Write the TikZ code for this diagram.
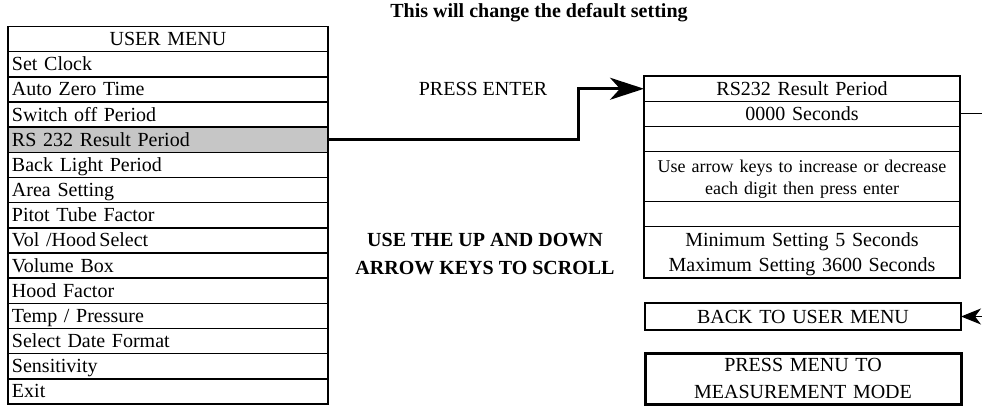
\documentclass[tikz,border=0pt]{standalone}
\usepackage{fontspec}
\setmainfont{Liberation Serif}
\usetikzlibrary{positioning,arrows.meta}

\begin{document}
\begin{tikzpicture}[x=1pt,y=-1pt,
    menurow/.style={draw,line width=1.5pt,minimum width=320pt,minimum height=25.17pt,
      text width=312pt,text height=16pt,text depth=3pt,inner xsep=4pt,inner ysep=0pt,
      outer sep=0pt,align=left,font=\fontsize{20}{22}\selectfont},
    menuhead/.style={menurow,align=center},
    picked/.style={fill=gray!45},
    panelrow/.style={draw,line width=1.5pt,minimum width=316pt,minimum height=25pt,
      text width=306pt,inner xsep=5pt,inner ysep=0pt,outer sep=0pt,align=center,
      font=\fontsize{20}{25}\selectfont},
    plain/.style={inner sep=0pt,align=center,font=\fontsize{20}{28}\selectfont}]
  \useasboundingbox (0,0) rectangle (982,406);

  % user menu
  \node[menuhead,anchor=north west] (menu) at (8,26.5) {USER MENU};
  \node[menurow,below=0pt of menu] (clock) {Set Clock};
  \node[menurow,below=0pt of clock] (autozero) {Auto Zero Time};
  \node[menurow,below=0pt of autozero] (switchoff) {Switch off Period};
  \node[menurow,picked,below=0pt of switchoff] (rsperiod) {RS 232 Result Period};
  \node[menurow,below=0pt of rsperiod] (backlight) {Back Light Period};
  \node[menurow,below=0pt of backlight] (area) {Area Setting};
  \node[menurow,below=0pt of area] (pitot) {Pitot Tube Factor};
  \node[menurow,below=0pt of pitot] (volhood) {Vol /Hood\,Select};
  \node[menurow,below=0pt of volhood] (volbox) {Volume Box};
  \node[menurow,below=0pt of volbox] (hood) {Hood Factor};
  \node[menurow,below=0pt of hood] (temp) {Temp / Pressure};
  \node[menurow,below=0pt of temp] (dateformat) {Select Date Format};
  \node[menurow,below=0pt of dateformat] (sensitivity) {Sensitivity};
  \node[menurow,below=0pt of sensitivity] (exit) {Exit};

  % setting panel
  \node[panelrow,anchor=north west,minimum height=25.5pt] (rshead) at (644,76) {RS232 Result Period};
  \node[panelrow,below=0pt of rshead] (seconds) {0000 Seconds};
  \node[panelrow,below=0pt of seconds] (blanka) {};
  \node[panelrow,below=0pt of blanka,minimum height=50pt,text height=17pt,
    font=\fontsize{18}{22}\selectfont] (hint) {Use arrow keys to increase or decrease\\each digit then press enter};
  \node[panelrow,below=0pt of hint] (blankb) {};
  \node[panelrow,below=0pt of blankb,minimum height=51.5pt,text height=18pt] (limits) {Minimum Setting 5 Seconds\\Maximum Setting 3600 Seconds};

  \node[panelrow,anchor=north west,minimum width=315pt,minimum height=27pt] (back) at (645,303) {BACK TO USER MENU};
  \node[panelrow,anchor=north west,minimum width=315pt,minimum height=51pt,line width=3pt,
    font=\fontsize{20}{27}\selectfont] (measure) at (645,353) {PRESS MENU TO\\MEASUREMENT MODE};

  % texts
  \node[plain,font=\bfseries\fontsize{20}{24}\selectfont] (caption) at (539,13) {This will change the default setting};
  \node[plain] (pressenter) at (483,89) {PRESS ENTER};
  \node[plain,font=\bfseries\fontsize{20}{28}\selectfont] (scrollnote) at (485,254) {USE THE UP AND DOWN\\ARROW KEYS TO SCROLL};

  % connectors
  \draw[line width=3pt,-{Stealth[length=34pt,width=22pt,inset=10pt]}]
    (rsperiod.east) -- ++(250,0) |- (rshead.west);
  \draw[line width=1pt,-{Stealth[length=20pt,width=16pt,inset=6pt]}]
    (seconds.east) -- ++(60,0) |- (back.east);
\end{tikzpicture}
\end{document}
